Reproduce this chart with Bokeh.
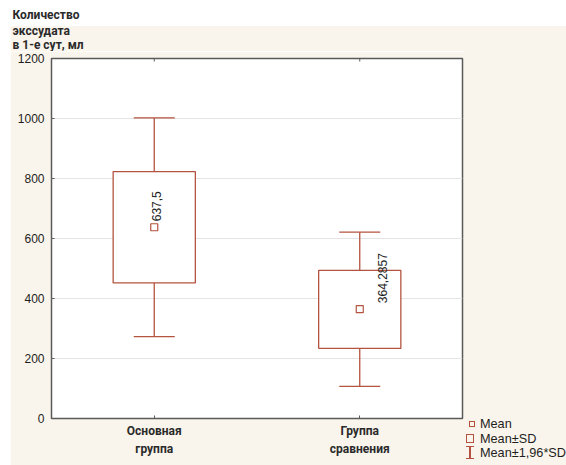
import math
from bokeh.plotting import figure
from bokeh.models import Range1d, FixedTicker, ColumnDataSource, Spacer, Div
from bokeh.layouts import column, row
from bokeh.core.properties import value
from bokeh.embed import file_html
from bokeh.resources import INLINE

# ---- data ----
groups = ["Основная\nгруппа", "Группа\nсравнения"]
group_pos = [1, 2]
means = [637.5, 364.2857]
mean_labels = ["637,5", "364,2857"]
sd_low = [452, 234]
sd_high = [823, 494]
ci_low = [273, 107]
ci_high = [1002, 621]
y_ticks = [0, 200, 400, 600, 800, 1000, 1200]
legend_labels = ["Mean", "Mean±SD", "Mean±1,96*SD"]
title_lines = ["Количество", "экссудата", "в 1-е сут, мл"]

# ---- styles / layout ----
label_dx = [2, 23]
RED = "#b4533f"
CREAM = "#f9f5ec"
FRAME = "#5a5a5a"
TXT = "#1e1e1e"
HEAD_TXT = "#2a2a2a"
W, H = 566, 465
HEAD_H = 51
LEFT_PAD = 10
LEG_W = 102


def bare(fig):
    fig.axis.visible = False
    fig.grid.grid_line_color = None
    fig.outline_line_color = None
    return fig


# ---- header (title lines) ----
head = bare(figure(width=W, height=HEAD_H, output_backend="svg", toolbar_location=None,
                   x_range=Range1d(0, W), y_range=Range1d(HEAD_H, 0),
                   min_border=0, background_fill_color="white", border_fill_color="white"))
head.quad(left=[LEFT_PAD], right=[W], top=[25.5], bottom=[HEAD_H],
          fill_color=CREAM, line_color=None)
head.text(x=[12] * 3, y=[14, 30, 44], text=title_lines,
          text_font=value("Roboto"), text_font_style="bold", text_font_size="12px",
          text_color=HEAD_TXT, text_baseline="middle", text_align="left")

# ---- main chart ----
PH = H - HEAD_H
p = figure(width=W - LEFT_PAD - LEG_W, height=PH, output_backend="svg",
           toolbar_location=None,
           x_range=Range1d(0.5, 2.5), y_range=Range1d(0, 1200),
           min_border_left=41, min_border_right=2, min_border_top=7,
           min_border_bottom=47,
           background_fill_color="white", border_fill_color=CREAM,
           outline_line_color=FRAME, outline_line_width=1.5)

src = ColumnDataSource(dict(x=group_pos, mean=means, lab=mean_labels,
                            sdl=sd_low, sdh=sd_high, cil=ci_low, cih=ci_high,
                            dx=label_dx))

p.segment(x0="x", y0="cil", x1="x", y1="sdl", source=src, line_color=RED, line_width=1.3)
p.segment(x0="x", y0="sdh", x1="x", y1="cih", source=src, line_color=RED, line_width=1.3)
p.scatter(x="x", y="cil", source=src, marker="dash", size=41, line_color=RED, line_width=1.3)
p.scatter(x="x", y="cih", source=src, marker="dash", size=41, line_color=RED, line_width=1.3)
p.vbar(x="x", width=0.4, bottom="sdl", top="sdh", source=src,
       fill_color="white", line_color=RED, line_width=1.3)
p.scatter(x="x", y="mean", source=src, marker="square", size=7,
          fill_color="white", line_color=RED, line_width=1.2)
p.text(x="x", y="mean", text="lab", source=src, angle=math.pi / 2,
       x_offset="dx", y_offset=-6, text_align="left", text_baseline="middle",
       text_font=value("Liberation Sans"), text_font_size="12px", text_color=TXT)
# small inward ticks on the top edge of the frame
p.scatter(x=group_pos, y=[y_ticks[-1]] * len(group_pos), marker="dash", angle=math.pi / 2,
          size=6, line_color=FRAME, line_width=1)

p.xgrid.grid_line_color = None
p.ygrid.grid_line_color = "#e4e4e4"
p.ygrid.grid_line_width = 1

p.yaxis.ticker = FixedTicker(ticks=y_ticks)
p.yaxis.axis_line_color = None
p.yaxis.major_tick_in = 3
p.yaxis.major_tick_out = 0
p.yaxis.major_tick_line_color = FRAME
p.yaxis.minor_tick_line_color = None
p.yaxis.major_label_standoff = 7
p.yaxis.major_label_text_font = "Liberation Sans"
p.yaxis.major_label_text_font_size = "12px"
p.yaxis.major_label_text_color = TXT

p.xaxis.ticker = FixedTicker(ticks=group_pos)
p.xaxis.major_label_overrides = {pos: g for pos, g in zip(group_pos, groups)}
p.xaxis.axis_line_color = None
p.xaxis.major_tick_in = 3
p.xaxis.major_tick_out = 0
p.xaxis.major_tick_line_color = FRAME
p.xaxis.minor_tick_line_color = None
p.xaxis.major_label_standoff = 5
p.xaxis.major_label_text_font = "Roboto"
p.xaxis.major_label_text_font_style = "bold"
p.xaxis.major_label_text_font_size = "12px"
p.xaxis.major_label_text_line_height = 1.3
p.xaxis.major_label_text_color = HEAD_TXT

# ---- legend panel (bottom right), drawn as HTML ----
def abs_box(left, top, w, h, extra):
    return (f'<div style="position:absolute;left:{left}px;top:{top}px;width:{w}px;'
            f'height:{h}px;box-sizing:border-box;{extra}"></div>')

icons = [
    abs_box(5, 370, 6, 6, f"border:1.2px solid {RED}"),
    abs_box(2, 383, 8, 9, f"border:1.3px solid {RED}"),
    abs_box(5.4, 395, 1.3, 13, f"background:{RED}"),
    abs_box(2, 395, 8, 1.3, f"background:{RED}"),
    abs_box(2, 406.7, 8, 1.3, f"background:{RED}"),
]
texts = "".join(
    f'<div style="position:absolute;left:16px;top:{t}px;line-height:14px;'
    f'font-family:\'Liberation Sans\';font-size:12.7px;color:{TXT};white-space:nowrap">{lab}</div>'
    for lab, t in zip(legend_labels, [366, 380.5, 395]))
leg_html = (f'<div style="position:relative;width:{LEG_W}px;height:{PH}px;'
            f'background:{CREAM};overflow:hidden">' + "".join(icons) + texts + '</div>')
leg = Div(text=leg_html, width=LEG_W, height=PH, margin=0,
          styles={"background-color": CREAM})

layout = column(head, row(Spacer(width=LEFT_PAD, height=PH), p, leg))

open("out.html", "w").write(file_html(layout, INLINE))
